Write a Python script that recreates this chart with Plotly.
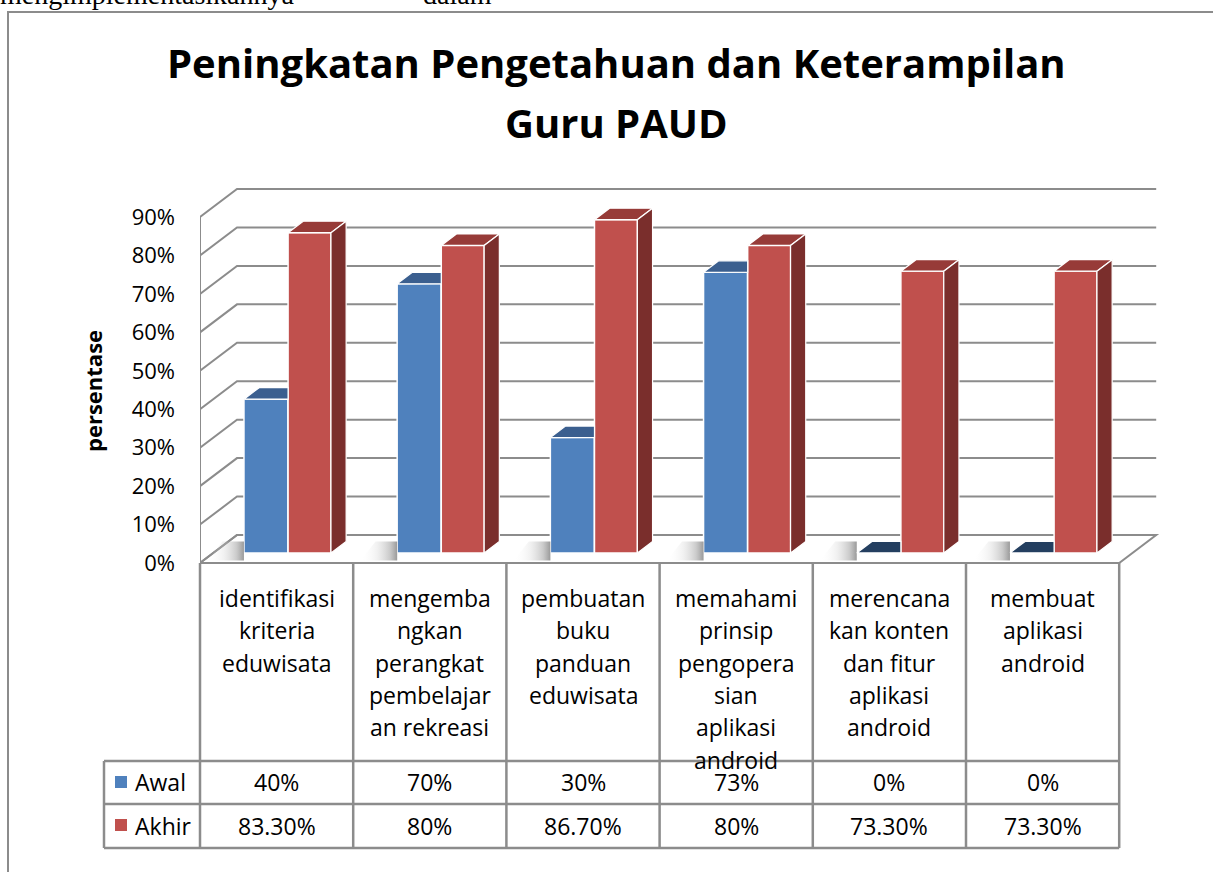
import plotly.graph_objects as go

# ---------------- data ----------------
category_labels = [
    "identifikasi<br>kriteria<br>eduwisata",
    "mengemba<br>ngkan<br>perangkat<br>pembelajar<br>an rekreasi",
    "pembuatan<br>buku<br>panduan<br>eduwisata",
    "memahami<br>prinsip<br>pengopera<br>sian<br>aplikasi<br>android",
    "merencana<br>kan konten<br>dan fitur<br>aplikasi<br>android",
    "membuat<br>aplikasi<br>android",
]
series_names = ["Awal", "Akhir"]
awal = [40, 70, 30, 73, 0, 0]
akhir = [83.3, 80, 86.7, 80, 73.3, 73.3]
awal_text = ["40%", "70%", "30%", "73%", "0%", "0%"]
akhir_text = ["83.30%", "80%", "86.70%", "80%", "73.30%", "73.30%"]
tick_vals = [0, 10, 20, 30, 40, 50, 60, 70, 80, 90]
tick_text = ["0%", "10%", "20%", "30%", "40%", "50%", "60%", "70%", "80%", "90%"]
title_lines = ["Peningkatan Pengetahuan dan Keterampilan", "Guru PAUD"]
y_title = "persentase"

# ---------------- geometry ----------------
W, H = 1213, 872
L, R, T, B = 200, 1170, 150, 600          # plot area in px
X0PX, KX = 200.0, 153.2                   # px of x=-0.5, px per category
Y0PX, KY = 563.0, 3.844                   # px of 0%, px per percent
n = len(awal)
xr = [-0.5 + (L - X0PX) / KX, -0.5 + (R - X0PX) / KX]
yr = [(Y0PX - B) / KY, (Y0PX - T) / KY]

DX, DY = 37 / KX, 28 / KY                 # depth of the floor in data units
F0, FD = 0.36, 0.41                       # bar front depth, bar depth (fractions)
BW_B, OFF_B = 0.287, -0.300
BW_R, OFF_R = 0.280, -0.012
SHW = 0.24                                # shadow width (category units)

GRID = "#8c8c8c"
FONT = "Open Sans"
BLUE, BLUE_TOP, BLUE_TOP0 = "#4F81BD", "#3B5F8F", "#243F60"
RED, RED_TOP, RED_SIDE = "#C0504D", "#973B38", "#7A2E2C"


def pxx(x):
    return (x - L) / (R - L)


def pxy(y):
    return (B - y) / (B - T)


fig = go.Figure()

# front faces (bars)
xs = [i + F0 * DX for i in range(n)]
fig.add_trace(go.Bar(x=xs, y=awal, base=F0 * DY, width=BW_B, offset=OFF_B,
                     name=series_names[0],
                     marker=dict(color=BLUE, line=dict(color="white", width=1.5))))
fig.add_trace(go.Bar(x=xs, y=akhir, base=F0 * DY, width=BW_R, offset=OFF_R,
                     name=series_names[1],
                     marker=dict(color=RED, line=dict(color="white", width=1.5))))

ddx, ddy = FD * DX, FD * DY
fy = F0 * DY

# soft floor shadows to the left of each pair of bars
for i in range(n):
    x0 = xs[i] + OFF_B
    sx = [x0 - SHW, x0, x0, x0 - SHW + ddx, x0 - SHW]
    sy = [fy - 2.0, fy - 2.0, fy + ddy, fy + ddy, fy - 2.0]
    fig.add_trace(go.Scatter(x=sx, y=sy, mode="lines", fill="toself",
                             line=dict(width=0, color="rgba(0,0,0,0)"),
                             fillgradient=dict(type="horizontal",
                                               colorscale=[[0, "rgba(255,255,255,0)"],
                                                           [0.45, "rgba(200,200,200,0.25)"],
                                                           [0.8, "rgba(150,150,150,0.5)"],
                                                           [1, "rgba(110,110,110,0.7)"]]),
                             hoverinfo="skip", showlegend=False))

# top / side faces derived from the values
bt_x, bt_y, bt0_x, bt0_y = [], [], [], []
rt_x, rt_y, rs_x, rs_y = [], [], [], []
for i in range(n):
    # blue top (clipped where the red front face hides it)
    x0 = xs[i] + OFF_B
    x1 = x0 + BW_B
    xrl = xs[i] + OFF_R
    h = fy + awal[i]
    px_ = [x0, x1, xrl, xrl, x0 + ddx, x0]
    py_ = [h, h, h + (xrl - x1) * ddy / ddx, h + ddy, h + ddy, h]
    if awal[i] == 0:
        bt0_x += px_ + [None]; bt0_y += py_ + [None]
    else:
        bt_x += px_ + [None]; bt_y += py_ + [None]
    # red top + side
    x0 = xs[i] + OFF_R
    x1 = x0 + BW_R
    h = fy + akhir[i]
    rt_x += [x0, x1, x1 + ddx, x0 + ddx, x0, None]
    rt_y += [h, h, h + ddy, h + ddy, h, None]
    rs_x += [x1, x1 + ddx, x1 + ddx, x1, x1, None]
    rs_y += [fy, fy + ddy, h + ddy, h, fy, None]

for fx, fyy, col in [(bt_x, bt_y, BLUE_TOP), (bt0_x, bt0_y, BLUE_TOP0),
                     (rt_x, rt_y, RED_TOP), (rs_x, rs_y, RED_SIDE)]:
    fig.add_trace(go.Scatter(x=fx, y=fyy, mode="lines", fill="toself",
                             fillcolor=col, line=dict(color="white", width=1.2),
                             hoverinfo="skip", showlegend=False))

shapes = []
# floor
shapes.append(dict(type="path", xref="x", yref="y", layer="below",
                   path=f"M{-0.5},0 L{n-0.5},0 L{n-0.5+DX},{DY} L{-0.5+DX},{DY} Z",
                   fillcolor="white", line=dict(color=GRID, width=2)))
# walls / gridlines
for v in tick_vals:
    shapes.append(dict(type="path", xref="x", yref="y", layer="below",
                       path=f"M{-0.5},{v} L{-0.5+DX},{v+DY} L{n-0.5+DX},{v+DY}",
                       line=dict(color=GRID, width=2)))
shapes.append(dict(type="line", xref="x", yref="y", layer="below",
                   x0=-0.5, x1=-0.5, y0=0, y1=tick_vals[-1],
                   line=dict(color=GRID, width=2)))

# data table
TLINE = dict(color=GRID, width=2.5)
col_px = [X0PX + k * KX for k in range(n + 1)]
ROW_TOP, ROW1, ROW2, ROW_BOT = 563, 761, 804, 848
LEG_L = 104
for k, cx in enumerate(col_px):
    shapes.append(dict(type="line", xref="paper", yref="paper",
                       x0=pxx(cx), x1=pxx(cx), y0=pxy(ROW_TOP), y1=pxy(ROW_BOT), line=TLINE))
shapes.append(dict(type="line", xref="paper", yref="paper",
                   x0=pxx(LEG_L), x1=pxx(LEG_L), y0=pxy(ROW1), y1=pxy(ROW_BOT), line=TLINE))
for ry in (ROW1, ROW2, ROW_BOT):
    shapes.append(dict(type="line", xref="paper", yref="paper",
                       x0=pxx(LEG_L), x1=pxx(col_px[-1]), y0=pxy(ry), y1=pxy(ry), line=TLINE))
# legend keys
for ry, col in ((782, BLUE), (825, RED)):
    shapes.append(dict(type="rect", xref="paper", yref="paper",
                       x0=pxx(115), x1=pxx(127), y0=pxy(ry - 6), y1=pxy(ry + 6),
                       fillcolor=col, line=dict(width=0)))
# chart border
shapes.append(dict(type="rect", xref="paper", yref="paper",
                   x0=pxx(8), x1=pxx(W + 20), y0=pxy(12), y1=pxy(H + 20),
                   line=dict(color=GRID, width=2), fillcolor="rgba(0,0,0,0)"))

ann = []
# title
for j, t in enumerate(title_lines):
    ann.append(dict(text=f"<b>{t}</b>", xref="paper", yref="paper",
                    x=pxx(616), y=pxy(63 + 59 * j), xanchor="center", yanchor="middle",
                    showarrow=False, font=dict(family=FONT, size=40, color="black")))
# y-axis title
ann.append(dict(text=f"<b>{y_title}</b>", xref="paper", yref="paper", textangle=-90,
                x=pxx(93), y=pxy(391), xanchor="center", yanchor="middle",
                showarrow=False, font=dict(family=FONT, size=22, color="black")))
# category labels
for i, lab in enumerate(category_labels):
    cx = (col_px[i] + col_px[i + 1]) / 2
    for j, line in enumerate(lab.split("<br>")):
        ann.append(dict(text=line, xref="paper", yref="paper",
                        x=pxx(cx), y=pxy(598 + 32.3 * j), xanchor="center", yanchor="middle",
                        showarrow=False, font=dict(family=FONT, size=23, color="black")))
# values
for i in range(n):
    cx = (col_px[i] + col_px[i + 1]) / 2
    for ry, txt in ((782, awal_text[i]), (826, akhir_text[i])):
        ann.append(dict(text=txt, xref="paper", yref="paper",
                        x=pxx(cx), y=pxy(ry), xanchor="center", yanchor="middle",
                        showarrow=False, font=dict(family=FONT, size=23, color="black")))
for ry, nm in ((782, series_names[0]), (826, series_names[1])):
    ann.append(dict(text=nm, xref="paper", yref="paper",
                    x=pxx(133), y=pxy(ry), xanchor="left", yanchor="middle",
                    showarrow=False, font=dict(family=FONT, size=23, color="black")))
# cropped document text above the chart
for txt, x in (("mengimplementasikannya", -2), ("dalam", 421)):
    ann.append(dict(text=txt, xref="paper", yref="paper",
                    x=pxx(x), y=pxy(-6), xanchor="left", yanchor="middle",
                    showarrow=False, font=dict(family="Liberation Serif", size=28, color="black")))

fig.update_layout(
    width=W, height=H,
    margin=dict(l=L, r=W - R, t=T, b=H - B, pad=0),
    paper_bgcolor="white", plot_bgcolor="rgba(0,0,0,0)",
    barmode="overlay", showlegend=False,
    xaxis=dict(range=xr, visible=False, fixedrange=True),
    yaxis=dict(range=yr, tickvals=tick_vals, ticktext=tick_text, showgrid=False,
               zeroline=False, showline=False, ticks="", ticklabelstandoff=24,
               tickfont=dict(family=FONT, size=22, color="black"), fixedrange=True),
    shapes=shapes, annotations=ann,
)

fig.write_html("out.html")
